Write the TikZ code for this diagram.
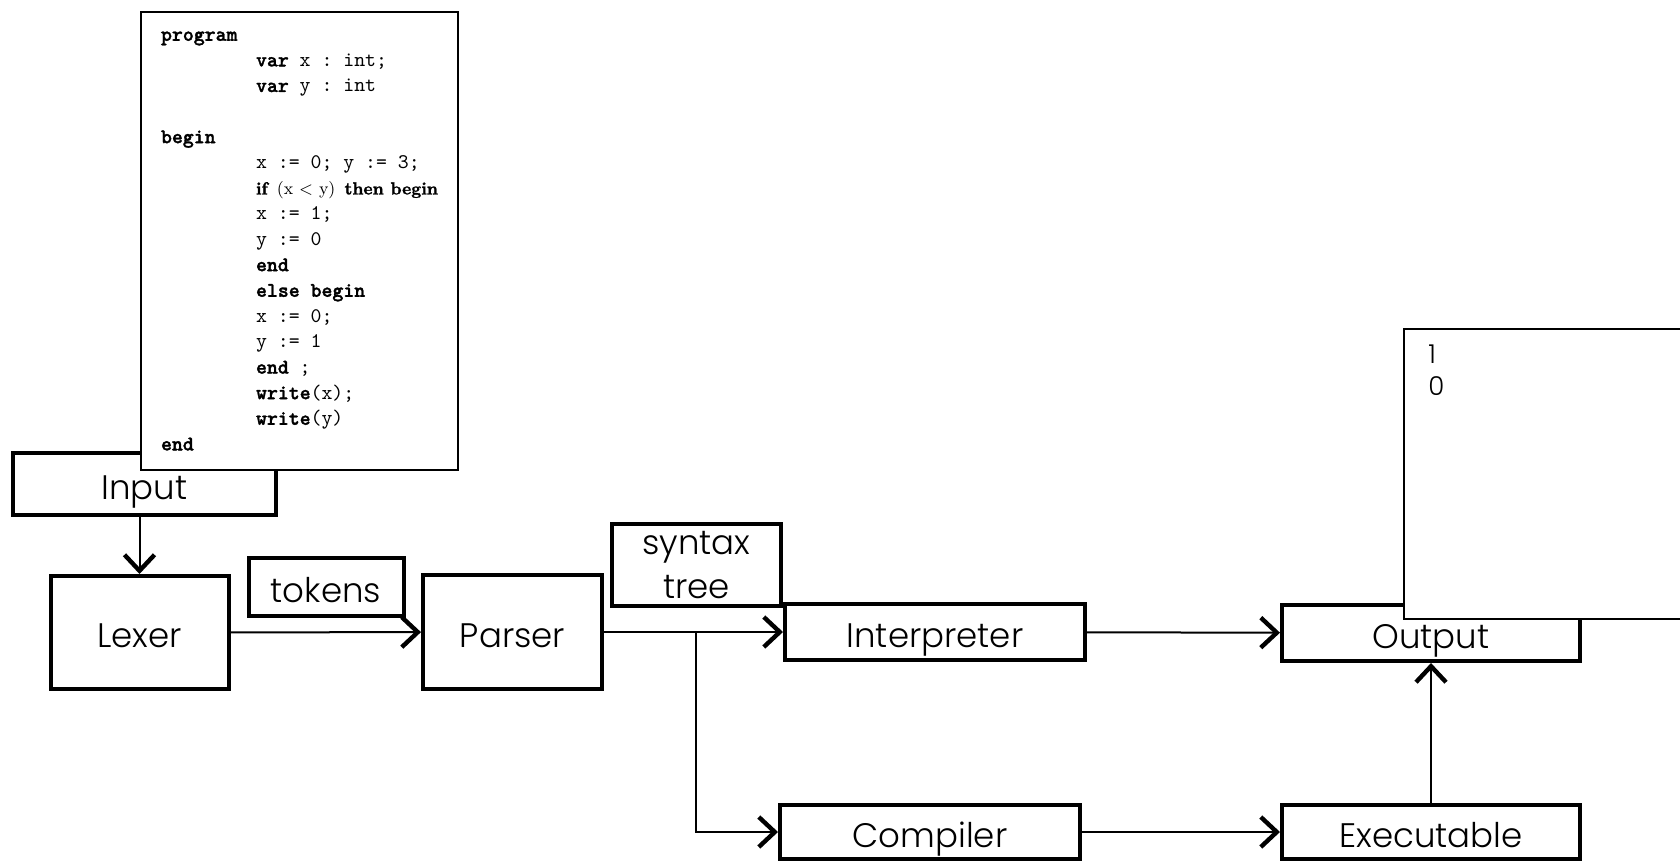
\documentclass[tikz,border=0pt]{standalone}
\usepackage{fontspec}
\IfFontExistsTF{Poppins Light}{\newfontfamily\gothic{Poppins Light}}{\newfontfamily\gothic{Poppins}}
\IfFontExistsTF{lmmonolt10-bold.otf}{\setmonofont{lmmono10-regular.otf}[BoldFont=lmmonolt10-bold.otf, BoldFeatures={FakeBold=1.5}]}{\setmonofont{Latin Modern Mono}[AutoFakeBold=3]}
\IfFontExistsTF{lmroman10-bold.otf}{\newfontfamily\rmheavy{lmroman10-bold.otf}[FakeBold=1.5]}{\newfontfamily\rmheavy{Latin Modern Roman}[FakeBold=3]}
\usetikzlibrary{arrows.meta}
\newcommand{\tabin}{\hspace*{47.5pt}}
\tikzset{
  stage/.style={draw, line width=2pt, fill=white, inner sep=0pt,
    text height=15pt, text depth=0pt,
    font=\gothic\fontsize{17}{22}\selectfont},
  codebox/.style={draw, line width=1pt, fill=white, align=left,
    minimum width=158.5pt, inner xsep=10pt, inner ysep=0pt, minimum height=229pt,
    font=\ttfamily\fontsize{10.4}{12.8}\selectfont},
  link/.style={line width=1pt, -{Straight Barb[length=8pt,width=15pt,line width=2.2pt]}}
}

\begin{document}
\begin{tikzpicture}[x=0.5pt, y=-0.5pt]
    \useasboundingbox (0,0) rectangle (1680,861);
    % stages
    \node[stage, minimum width=131.5pt, minimum height=31pt] (input) at (144.5,484) {Input};
    \node[stage, minimum width=89pt, minimum height=56.5pt] (lexer) at (139.5,632.5) {Lexer};
    \node[stage, minimum width=77.5pt, minimum height=29pt] (tokens) at (326,587) {tokens};
    \node[stage, minimum width=89.5pt, minimum height=57pt] (parser) at (512.5,632) {Parser};
    \node[stage, text height=, text depth=, align=center, minimum width=84.5pt,
      minimum height=41pt] (tree) at (696.5,565) {syntax\\tree};
    \node[stage, minimum width=150pt, minimum height=28pt] (interp) at (935,632) {Interpreter};
    \node[stage, minimum width=149pt, minimum height=28pt] (output) at (1431,633) {Output};
    \node[stage, minimum width=150pt, minimum height=27pt] (compiler) at (930,832) {Compiler};
    \node[stage, minimum width=149pt, minimum height=27pt] (exec) at (1431,832) {Executable};
    \coordinate (split) at (696,632);

    % source program
    \node[codebox, anchor=north west] (source) at (140,11) {%
      \textbf{program}\\
      \tabin\textbf{var} x : int;\\
      \tabin\textbf{var} y : int\\
      \mbox{}\\
      \textbf{begin}\\
      \tabin x := 0; y := 3;\\
      \tabin{\fontsize{8.7}{12.8}\selectfont{\rmheavy if} {\rmfamily (x < y)} {\rmheavy then begin}}\\
      \tabin x := 1;\\
      \tabin y := 0\\
      \tabin\textbf{end}\\
      \tabin\textbf{else begin}\\
      \tabin x := 0;\\
      \tabin y := 1\\
      \tabin\textbf{end} ;\\
      \tabin\textbf{write}(x);\\
      \tabin\textbf{write}(y)\\
      \textbf{end}};

    % program output
    \node[draw, line width=1pt, fill=white, anchor=north west, minimum width=200pt,
      minimum height=145pt] (console) at (1403,328) {};
    \node[anchor=north west, align=left, inner sep=0pt,
      font=\gothic\fontsize{13}{16}\selectfont] (result) at (1428,344) {1\\0};

    % connectors
    \draw[link] (input.south -| lexer.north) -- (lexer.north);
    \draw[link] (lexer) -- (parser);
    \draw[link] (parser) -- (interp);
    \draw[link] (split) |- (compiler.west);
    \draw[link] (interp) -- (output);
    \draw[link] (compiler) -- (exec);
    \draw[link] (exec) -- (output);
\end{tikzpicture}
\end{document}
